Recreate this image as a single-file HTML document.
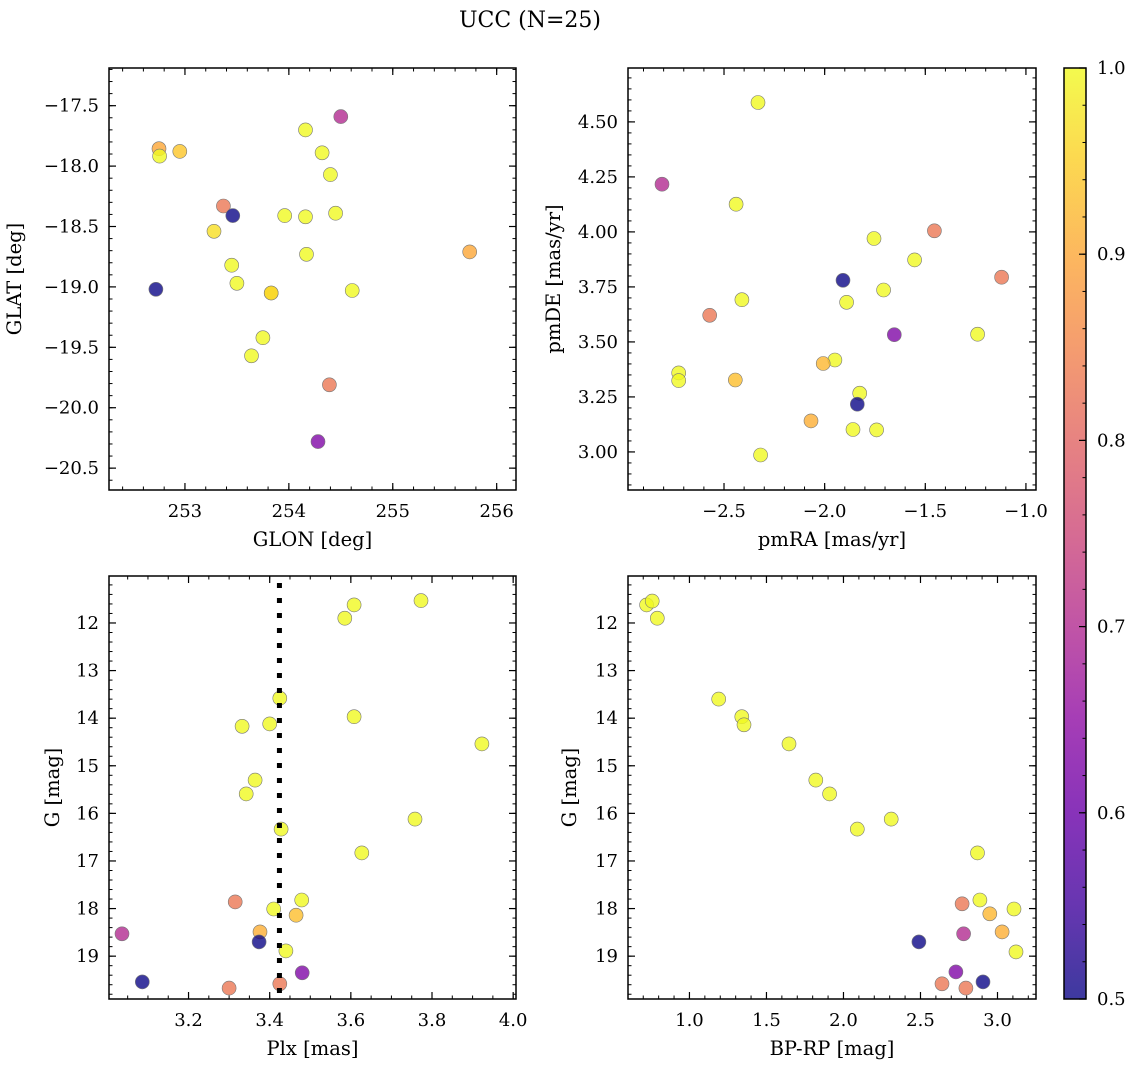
<!DOCTYPE html>
<html><head><meta charset="utf-8"><style>
html,body{margin:0;padding:0;background:#fff;}
svg text{font-family:"DejaVu Serif","Liberation Serif",serif;fill:#000;}
</style></head><body>
<svg id="chart" width="1136" height="1067" viewBox="0 0 1136 1067" xmlns="http://www.w3.org/2000/svg">
<defs>
<linearGradient id="plasmaGrad" x1="0" y1="1" x2="0" y2="0">
<stop offset="0" stop-color="#0d0887"/><stop offset="0.1" stop-color="#41049d"/><stop offset="0.2" stop-color="#6a00a8"/><stop offset="0.3" stop-color="#8f0da4"/><stop offset="0.4" stop-color="#b12a90"/><stop offset="0.5" stop-color="#cc4778"/><stop offset="0.6" stop-color="#e16462"/><stop offset="0.7" stop-color="#f2844b"/><stop offset="0.8" stop-color="#fca636"/><stop offset="0.9" stop-color="#fcce25"/><stop offset="1" stop-color="#f0f921"/>
</linearGradient>
</defs>
<text x="530" y="27" font-size="22" text-anchor="middle">UCC (N=25)</text>
</svg>
<script>
// Panel 1: GLON vs GLAT
const glon = [252.75,252.756,252.95,254.5,254.16,254.32,254.40,253.37,253.46,253.96,254.16,254.45,253.28,254.17,255.74,253.45,253.50,252.72,253.83,253.83,254.61,253.75,253.64,254.39,254.28];
const glat = [-17.856,-17.917,-17.878,-17.59,-17.70,-17.89,-18.07,-18.33,-18.41,-18.41,-18.42,-18.39,-18.54,-18.73,-18.71,-18.82,-18.97,-19.02,-19.05,-19.05,-19.03,-19.42,-19.57,-19.81,-20.28];
const prob1 = [0.9,1.0,0.94,0.7,1,1,1,0.83,0.5,1,1,1,0.97,1,0.9,1,1,0.5,0.96,0.96,1,1,1,0.83,0.63];
// Panel 2: pmRA vs pmDE
const pmra = [-2.331,-2.808,-2.44,-1.455,-1.755,-1.553,-1.121,-1.909,-1.707,-2.411,-1.891,-2.571,-1.654,-1.240,-1.949,-2.007,-2.725,-2.725,-2.444,-1.826,-1.838,-2.068,-1.859,-1.742,-2.318];
const pmde = [4.588,4.217,4.126,4.005,3.970,3.873,3.794,3.780,3.736,3.692,3.680,3.621,3.533,3.535,3.418,3.402,3.359,3.324,3.327,3.267,3.217,3.141,3.102,3.100,2.986];
const prob2 = [1,0.7,1,0.83,1,1,0.83,0.5,1,1,1,0.83,0.63,1,1,0.92,1,1,0.93,1,0.5,0.91,1,1,1];
// Panel 3: Plx vs G
const plx = [3.585,3.608,3.773,3.425,3.332,3.40,3.608,3.923,3.364,3.342,3.758,3.428,3.627,3.479,3.315,3.41,3.465,3.036,3.376,3.374,3.44,3.48,3.086,3.30,3.425];
const gmag3 = [11.90,11.62,11.53,13.58,14.17,14.12,13.97,14.54,15.30,15.59,16.12,16.33,16.83,17.82,17.86,18.01,18.14,18.53,18.49,18.70,18.89,19.35,19.54,19.67,19.58];
const prob3 = [1,1,1,1,1,1,1,1,1,1,1,1,1,1,0.83,1,0.93,0.7,0.91,0.5,1,0.63,0.5,0.83,0.83];
const plxLine = [3.424];
// Panel 4: BP-RP vs G
const bprp = [0.722,0.758,0.791,1.19,1.34,1.354,1.646,1.82,1.91,2.31,2.09,2.87,2.886,2.77,3.107,2.95,3.03,3.12,2.78,2.49,2.73,2.906,2.64,2.795];
const gmag4 = [11.62,11.54,11.90,13.60,13.97,14.14,14.54,15.30,15.59,16.12,16.33,16.83,17.82,17.90,18.01,18.11,18.49,18.91,18.53,18.70,19.33,19.54,19.58,19.67];
const prob4 = [1,1,1,1,1,1,1,1,1,1,1,1,1,0.83,1,0.92,0.91,1,0.7,0.5,0.63,0.5,0.83,0.83];
// Tick labels
const ticks1x = [253,254,255,256];
const ticks1y = [-17.5,-18.0,-18.5,-19.0,-19.5,-20.0,-20.5];
const ticks2x = [-2.5,-2.0,-1.5,-1.0];
const ticks2y = [4.50,4.25,4.00,3.75,3.50,3.25,3.00];
const ticks3x = [3.2,3.4,3.6,3.8,4.0];
const ticksGy = [12,13,14,15,16,17,18,19];
const ticks4x = [1.0,1.5,2.0,2.5,3.0];
const cbTicks = [0.5,0.6,0.7,0.8,0.9,1.0];

const NS='http://www.w3.org/2000/svg';
const svg=document.getElementById('chart');
function mk(tag,attrs,parent){const e=document.createElementNS(NS,tag);for(const k in attrs)e.setAttribute(k,attrs[k]);(parent||svg).appendChild(e);return e;}
const stops=[[13,8,135],[65,4,157],[106,0,168],[143,13,164],[177,42,144],[204,71,120],[225,100,98],[242,132,75],[252,166,54],[252,206,37],[240,249,33]];
function plasma(v){let t=(v-0.5)/0.5;t=Math.max(0,Math.min(1,t));const f=t*10;const i=Math.min(9,Math.floor(f));const r=f-i;const a=stops[i],b=stops[i+1];
 return 'rgb('+[0,1,2].map(k=>Math.round(a[k]+(b[k]-a[k])*r)).join(',')+')';}
function fmt(v,d){const s=v.toFixed(d);return s.replace('-','\u2212');}

function panel(name,box,xd,yd,xs,ys,xt,yt,xdec,ydec,xminor,yminor,xlab,ylab,ylabOff){
 const g=mk('g',{});
 
 
 const [L,T,R,B]=box;
 const X=v=>L+(v-xd[0])/(xd[1]-xd[0])*(R-L);
 const Y=v=>T+(v-yd[0])/(yd[1]-yd[0])*(B-T);
 const pts=mk('g',{},g);
 
 
 for(let i=0;i<xs.length;i++){
  const c=mk('circle',{cx:X(xs[i]).toFixed(1),cy:Y(ys[i]).toFixed(1),r:7,fill:plasma(probs[name][i]),'fill-opacity':0.8,stroke:'#777','stroke-width':0.6},pts);
  
  
 }
 const lo=Math.min(xd[0],xd[1]),hi=Math.max(xd[0],xd[1]);
 for(let k=Math.ceil(lo/xminor-1e-6);k*xminor<=hi+1e-9;k++){const x=X(k*xminor);
  mk('line',{x1:x,x2:x,y1:B,y2:B-3.5,stroke:'#000','stroke-width':1},g);mk('line',{x1:x,x2:x,y1:T,y2:T+3.5,stroke:'#000','stroke-width':1},g);}
 const ylo=Math.min(yd[0],yd[1]),yhi=Math.max(yd[0],yd[1]);
 for(let k=Math.ceil(ylo/yminor-1e-6);k*yminor<=yhi+1e-9;k++){const y=Y(k*yminor);
  mk('line',{x1:L,x2:L+3.5,y1:y,y2:y,stroke:'#000','stroke-width':1},g);mk('line',{x1:R,x2:R-3.5,y1:y,y2:y,stroke:'#000','stroke-width':1},g);}
 xt.forEach(v=>{const x=X(v);
  mk('line',{x1:x,x2:x,y1:B,y2:B-7,stroke:'#000','stroke-width':1.2},g);mk('line',{x1:x,x2:x,y1:T,y2:T+7,stroke:'#000','stroke-width':1.2},g);
  const t=mk('text',{x:x,y:B+27,'font-size':18,'text-anchor':'middle'},g);t.textContent=fmt(v,xdec);
  
  });
 yt.forEach(v=>{const y=Y(v);
  mk('line',{x1:L,x2:L+7,y1:y,y2:y,stroke:'#000','stroke-width':1.2},g);mk('line',{x1:R,x2:R-7,y1:y,y2:y,stroke:'#000','stroke-width':1.2},g);
  const t=mk('text',{x:L-10,y:y+6,'font-size':18,'text-anchor':'end'},g);t.textContent=fmt(v,ydec);
  
  });
 const fr=mk('rect',{x:L,y:T,width:R-L,height:B-T,fill:'none',stroke:'#000','stroke-width':1.5},g);
 
 
 const xl=mk('text',{x:(L+R)/2,y:B+56,'font-size':19.5,'text-anchor':'middle'},g);xl.textContent=xlab;
 
 
 const yx=L-ylabOff,yc=(T+B)/2;
 const yl=mk('text',{x:yx,y:yc,'font-size':19.5,'text-anchor':'middle',transform:'rotate(-90 '+yx+' '+yc+')'},g);yl.textContent=ylab;
 
 
 return {X,Y,g,box};
}
const probs={'glon-glat-panel':prob1,'pm-panel':prob2,'plx-g-panel':prob3,'cmd-panel':prob4};
panel('glon-glat-panel',[109,68,516,490],[252.269,256.186],[-17.188,-20.681],glon,glat,ticks1x,ticks1y,0,1,0.2,0.1,'GLON [deg]','GLAT [deg]',88);
panel('pm-panel',[628,68,1036,490],[-2.977,-0.950],[4.745,2.827],pmra,pmde,ticks2x,ticks2y,1,2,0.1,0.05,'pmRA [mas/yr]','pmDE [mas/yr]',68);
const p3=panel('plx-g-panel',[109,576,516,999],[3.004,4.007],[11.013,19.90],plx,gmag3,ticks3x,ticksGy,1,0,0.05,0.2,'Plx [mas]','G [mag]',50);
panel('cmd-panel',[628,576,1036,999],[0.601,3.25],[11.013,19.90],bprp,gmag4,ticks4x,ticksGy,1,0,0.1,0.2,'BP-RP [mag]','G [mag]',52);
plxLine.forEach(v=>{const x=p3.X(v);
 const ln=mk('line',{x1:x,x2:x,y1:583,y2:995,stroke:'#000','stroke-width':5,'stroke-dasharray':'5,10'},p3.g);
 
 });
const cb=mk('g',{});


const cL=1064,cR=1086,cT=68,cB=999;
const CY=v=>cB-(v-0.5)/0.5*(cB-cT);
mk('rect',{x:cL,y:cT,width:cR-cL,height:cB-cT,fill:'url(#plasmaGrad)','fill-opacity':0.8},cb);
for(let k=25;k<=50;k++){const y=CY(k*0.02);mk('line',{x1:cR,x2:cR-3.5,y1:y,y2:y,stroke:'#000','stroke-width':1},cb);}
cbTicks.forEach(v=>{const y=CY(v);mk('line',{x1:cR,x2:cR-7,y1:y,y2:y,stroke:'#000','stroke-width':1.2},cb);
 const t=mk('text',{x:cR+11,y:y+6,'font-size':18},cb);t.textContent=v.toFixed(1);
 
 });
mk('rect',{x:cL,y:cT,width:cR-cL,height:cB-cT,fill:'none',stroke:'#000','stroke-width':1.5},cb);
</script>
</body></html>
